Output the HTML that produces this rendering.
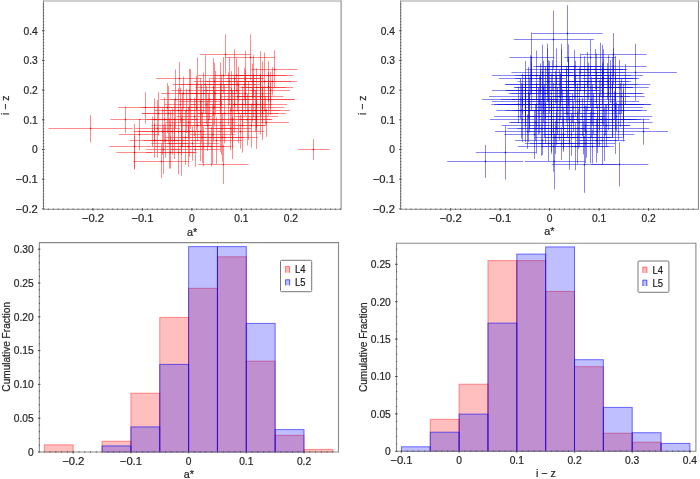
<!DOCTYPE html><html><head><meta charset="utf-8"><style>html,body{margin:0;padding:0;background:#fff;width:700px;height:479px;overflow:hidden;position:relative}svg text{font-family:"Liberation Sans", sans-serif;stroke:#262626;stroke-width:0.22px}</style></head><body><svg width="700" height="479" viewBox="0 0 700 479" style="position:absolute;left:0;top:0;will-change:transform" font-family='"Liberation Sans", sans-serif'>
<rect width="700" height="479" fill="#fff"/>
<clipPath id="clipA"><rect x="43.45" y="1.0" width="297.65000000000003" height="208.3"/></clipPath>
<g clip-path="url(#clipA)"><path d="M48.6 128.5H132.6M90.5 115.1V142.3M110.4 119.5H141.2M125.5 106.5V133.1M118.1 107.5H173.3M145.5 92.2V123.6M119.0 134.5H159.0M139.5 119.0V150.2M109.3 146.5H160.3M134.5 124.0V169.0M156.2 78.5H202.2M179.5 62.0V94.4M199.9 54.5H250.9M225.5 34.3V74.7M225.2 57.5H275.2M250.5 34.4V80.4M251.4 69.5H297.4M274.5 50.3V88.3M235.9 75.5H285.9M260.5 51.2V99.2M231.9 75.5H275.9M253.5 55.2V95.2M209.6 78.5H259.6M234.5 49.2V107.2M298.2 149.5H329.6M313.5 139.0V160.0M242.5 75.5H293.5M268.5 61.2V89.2M247.0 81.5H297.0M272.5 67.2V95.2M243.0 87.5H293.0M268.5 72.1V102.1M245.0 99.5H295.0M270.5 83.0V115.0M240.0 107.5H284.0M262.5 92.9V122.9M240.0 110.5H290.0M265.5 96.9V124.9M234.0 113.5H278.0M256.5 99.9V127.9M234.0 116.5H278.0M256.5 102.8V130.8M243.0 122.5H289.0M266.5 108.8V136.8M198.4 164.5H248.4M223.5 144.8V183.9M116.3 152.5H152.3M134.5 135.5V169.5M133.0 161.5H189.0M161.5 144.4V178.4M207.7 119.5H256.7M232.5 90.7V148.9M235.7 125.5H266.4M251.5 103.8V147.7M242.3 99.5H294.0M268.5 82.3V115.7M179.0 101.5H222.0M200.5 78.4V125.6M171.5 149.5H219.9M195.5 132.1V166.9M214.6 75.5H259.4M236.5 58.3V92.2M141.8 113.5H195.3M168.5 85.8V141.9M203.0 122.5H237.9M220.5 93.7V151.9M233.5 81.5H272.2M252.5 63.7V98.7M174.9 131.5H205.0M189.5 106.5V156.8M161.7 110.5H211.3M186.5 88.7V133.1M165.0 122.5H211.9M188.5 106.9V138.6M181.9 125.5H212.2M197.5 110.0V141.4M155.3 146.5H207.6M181.5 117.4V175.7M205.0 128.5H237.6M221.5 102.5V154.9M240.8 119.5H271.7M256.5 90.6V149.0M135.4 128.5H180.0M157.5 99.9V157.5M181.6 146.5H224.7M203.5 126.8V166.2M164.5 104.5H196.3M180.5 87.7V122.2M250.4 90.5H290.1M270.5 71.5V108.7M210.5 128.5H251.5M230.5 107.4V150.0M129.7 140.5H179.9M154.5 123.6V157.5M159.6 152.5H196.7M178.5 130.7V174.3M170.5 99.5H209.5M190.5 69.2V128.8M190.5 104.5H222.7M206.5 85.9V124.0M177.7 137.5H226.3M202.5 112.2V163.0M229.9 110.5H267.0M248.5 81.7V140.1M216.0 110.5H246.2M231.5 87.7V134.1M165.1 137.5H206.2M185.5 110.4V164.9M233.7 104.5H287.1M260.5 75.6V134.3M197.0 113.5H231.0M213.5 86.3V141.4M239.5 87.5H286.1M262.5 61.3V112.9M205.5 81.5H254.2M229.5 57.5V104.9M206.3 99.5H251.2M228.5 72.4V125.6M190.3 125.5H225.6M207.5 100.5V151.0M193.8 81.5H235.1M214.5 62.8V99.6M165.7 119.5H198.4M182.5 92.3V147.3M161.1 93.5H205.8M183.5 76.6V109.5M208.1 137.5H257.8M232.5 116.3V158.9M232.9 104.5H271.8M252.5 87.8V122.1M197.7 113.5H250.7M224.5 84.3V143.4M194.3 99.5H245.8M220.5 84.0V114.0M143.4 140.5H188.1M165.5 123.5V157.7M176.6 116.5H212.0M194.5 97.5V136.2M237.9 81.5H291.0M264.5 52.5V109.9M169.2 107.5H222.8M196.5 85.5V130.3M219.8 84.5H256.2M238.5 66.8V101.5M227.4 104.5H258.2M242.5 86.2V123.7M191.2 140.5H242.5M216.5 117.4V163.8M226.5 78.5H263.6M245.5 50.8V105.7M167.0 143.5H218.8M192.5 126.4V160.7M198.0 75.5H248.2M223.5 57.0V93.5M217.0 131.5H264.1M240.5 114.7V148.7M146.2 149.5H179.8M163.5 125.0V174.0M201.0 137.5H244.3M222.5 113.3V161.9M185.4 93.5H221.1M203.5 72.5V113.6M189.8 93.5H240.8M215.5 70.9V115.3M140.9 107.5H194.2M167.5 82.9V132.9M152.4 119.5H197.1M174.5 99.6V140.0M220.5 93.5H271.0M245.5 70.3V115.8M220.8 96.5H253.2M237.5 80.5V111.5M179.3 93.5H213.0M196.5 75.7V110.5M146.9 119.5H182.5M164.5 97.6V142.0M217.5 113.5H258.8M238.5 84.7V143.0M151.2 143.5H188.2M169.5 118.4V168.7M192.4 146.5H231.2M211.5 126.9V166.2M160.3 99.5H191.2M175.5 69.4V128.6M153.0 131.5H192.6M172.5 108.7V154.6M227.7 84.5H260.9M244.5 67.9V100.4M189.7 134.5H235.4M212.5 105.3V164.0M177.3 113.5H225.7M201.5 84.8V142.9M220.2 125.5H265.1M242.5 98.7V152.7M151.4 125.5H189.0M170.5 110.3V141.1M205.4 90.5H257.7M231.5 71.0V109.2M150.5 140.5H198.9M174.5 122.2V159.0M223.1 119.5H272.4M247.5 94.1V145.5M179.9 131.5H221.8M200.5 102.2V161.1M237.6 96.5H268.9M253.5 74.7V117.4M203.9 84.5H237.9M220.5 62.3V106.0M195.3 87.5H231.0M213.5 58.3V115.9M163.6 131.5H199.9M181.5 108.5V154.9M133.4 131.5H171.7M152.5 116.4V147.0M237.5 96.5H283.4M260.5 74.7V117.3M142.1 113.5H174.2M158.5 92.2V135.6M172.5 84.5H221.5M197.5 57.6V110.7M165.6 146.5H211.2M188.5 125.8V167.3M202.8 90.5H239.4M221.5 74.9V105.3M139.2 119.5H169.3M154.5 98.4V141.2M154.1 110.5H203.9M178.5 88.4V133.4M209.2 104.5H259.7M234.5 77.3V132.6M238.6 113.5H286.1M262.5 87.9V139.8M192.0 119.5H224.2M208.5 93.7V145.9M137.8 131.5H186.2M162.5 108.5V154.8M241.3 87.5H271.4M256.5 68.2V106.0M231.3 110.5H279.6M255.5 90.1V131.7M188.8 107.5H240.3M214.5 90.8V125.1M185.4 99.5H233.6M209.5 78.5V119.5M171.7 90.5H208.2M189.5 68.8V111.4M179.8 84.5H231.9M205.5 55.2V113.1M146.1 152.5H195.2M170.5 136.4V168.5" stroke="rgba(255,0,0,0.45)" stroke-width="1" fill="none"/>
<path d="M89.80 128.5h1.4M124.80 119.5h1.4M144.80 107.5h1.4M138.80 134.5h1.4M133.80 146.5h1.4M178.80 78.5h1.4M224.80 54.5h1.4M249.80 57.5h1.4M273.80 69.5h1.4M259.80 75.5h1.4M252.80 75.5h1.4M233.80 78.5h1.4M312.80 149.5h1.4M267.80 75.5h1.4M271.80 81.5h1.4M267.80 87.5h1.4M269.80 99.5h1.4M261.80 107.5h1.4M264.80 110.5h1.4M255.80 113.5h1.4M255.80 116.5h1.4M265.80 122.5h1.4M222.80 164.5h1.4M133.80 152.5h1.4M160.80 161.5h1.4M231.80 119.5h1.4M250.80 125.5h1.4M267.80 99.5h1.4M199.80 101.5h1.4M194.80 149.5h1.4M235.80 75.5h1.4M167.80 113.5h1.4M219.80 122.5h1.4M251.80 81.5h1.4M188.80 131.5h1.4M185.80 110.5h1.4M187.80 122.5h1.4M196.80 125.5h1.4M180.80 146.5h1.4M220.80 128.5h1.4M255.80 119.5h1.4M156.80 128.5h1.4M202.80 146.5h1.4M179.80 104.5h1.4M269.80 90.5h1.4M229.80 128.5h1.4M153.80 140.5h1.4M177.80 152.5h1.4M189.80 99.5h1.4M205.80 104.5h1.4M201.80 137.5h1.4M247.80 110.5h1.4M230.80 110.5h1.4M184.80 137.5h1.4M259.80 104.5h1.4M212.80 113.5h1.4M261.80 87.5h1.4M228.80 81.5h1.4M227.80 99.5h1.4M206.80 125.5h1.4M213.80 81.5h1.4M181.80 119.5h1.4M182.80 93.5h1.4M231.80 137.5h1.4M251.80 104.5h1.4M223.80 113.5h1.4M219.80 99.5h1.4M164.80 140.5h1.4M193.80 116.5h1.4M263.80 81.5h1.4M195.80 107.5h1.4M237.80 84.5h1.4M241.80 104.5h1.4M215.80 140.5h1.4M244.80 78.5h1.4M191.80 143.5h1.4M222.80 75.5h1.4M239.80 131.5h1.4M162.80 149.5h1.4M221.80 137.5h1.4M202.80 93.5h1.4M214.80 93.5h1.4M166.80 107.5h1.4M173.80 119.5h1.4M244.80 93.5h1.4M236.80 96.5h1.4M195.80 93.5h1.4M163.80 119.5h1.4M237.80 113.5h1.4M168.80 143.5h1.4M210.80 146.5h1.4M174.80 99.5h1.4M171.80 131.5h1.4M243.80 84.5h1.4M211.80 134.5h1.4M200.80 113.5h1.4M241.80 125.5h1.4M169.80 125.5h1.4M230.80 90.5h1.4M173.80 140.5h1.4M246.80 119.5h1.4M199.80 131.5h1.4M252.80 96.5h1.4M219.80 84.5h1.4M212.80 87.5h1.4M180.80 131.5h1.4M151.80 131.5h1.4M259.80 96.5h1.4M157.80 113.5h1.4M196.80 84.5h1.4M187.80 146.5h1.4M220.80 90.5h1.4M153.80 119.5h1.4M177.80 110.5h1.4M233.80 104.5h1.4M261.80 113.5h1.4M207.80 119.5h1.4M161.80 131.5h1.4M255.80 87.5h1.4M254.80 110.5h1.4M213.80 107.5h1.4M208.80 99.5h1.4M188.80 90.5h1.4M204.80 84.5h1.4M169.80 152.5h1.4" stroke="rgba(220,0,0,0.75)" stroke-width="1.4" fill="none"/></g>
<clipPath id="clipB"><rect x="400.6" y="1.0" width="297.9" height="208.3"/></clipPath>
<g clip-path="url(#clipB)"><path d="M447.2 161.5H523.2M485.5 144.9V177.9M475.8 152.5H535.8M505.5 125.5V179.5M531.9 33.5H602.5M567.5 5.2V62.2M513.9 39.5H593.9M553.5 10.6V68.6M593.6 72.5H676.8M635.5 43.8V100.8M509.4 57.5H554.4M531.5 32.4V82.4M491.6 75.5H568.4M530.5 55.2V95.2M581.0 54.5H646.6M613.5 33.0V76.0M581.0 66.5H646.6M613.5 48.3V84.3M599.6 84.5H650.4M625.5 63.9V104.5M581.0 75.5H643.0M612.5 57.2V93.2M583.0 78.5H637.0M610.5 60.2V96.2M564.4 57.5H615.6M590.5 39.4V75.4M578.6 69.5H622.6M600.5 42.8V95.8M581.1 72.5H625.1M603.5 49.3V95.3M586.2 93.5H643.8M615.5 73.1V113.1M585.0 101.5H639.0M612.5 82.0V122.0M588.7 104.5H651.3M620.5 83.0V127.0M587.0 107.5H643.0M615.5 87.9V127.9M505.3 90.5H574.7M540.5 70.1V110.1M489.0 96.5H561.0M525.5 76.0V116.0M482.0 99.5H558.0M520.5 79.0V119.0M492.0 101.5H558.0M525.5 82.0V122.0M494.0 104.5H556.0M525.5 85.0V125.0M551.7 164.5H617.7M584.5 135.8V192.8M524.9 161.5H584.9M554.5 133.4V189.4M591.3 164.5H648.3M619.5 142.3V186.3M618.0 131.5H668.0M643.5 118.7V144.7M522.6 75.5H583.4M552.5 60.2V90.3M554.9 96.5H596.8M575.5 74.9V117.1M500.9 99.5H543.2M522.5 83.7V114.3M541.9 134.5H585.8M563.5 117.5V151.8M556.5 143.5H615.0M585.5 124.0V163.1M588.4 87.5H633.0M610.5 71.5V102.8M528.4 131.5H574.2M551.5 109.5V153.8M558.2 96.5H615.8M587.5 81.2V110.9M566.5 99.5H616.5M591.5 76.8V121.2M534.2 90.5H599.7M566.5 66.3V113.9M516.0 110.5H572.8M544.5 84.6V137.1M561.1 87.5H632.5M596.5 71.5V102.8M540.7 128.5H585.6M563.5 107.9V149.6M490.0 119.5H554.5M522.5 97.8V141.8M563.8 113.5H622.4M593.5 93.5V134.2M548.2 119.5H590.2M569.5 96.0V143.6M539.3 119.5H580.0M559.5 99.3V140.3M515.2 75.5H557.1M536.5 50.5V100.0M505.7 84.5H558.2M531.5 58.0V110.4M544.2 137.5H610.4M577.5 111.5V163.7M522.3 99.5H573.8M548.5 72.6V125.4M513.8 104.5H572.6M543.5 87.3V122.6M522.6 110.5H593.1M557.5 87.2V134.6M542.9 116.5H604.5M573.5 102.1V131.6M581.2 128.5H649.1M615.5 103.5V153.9M538.7 96.5H582.0M560.5 73.2V118.9M515.1 78.5H566.0M540.5 63.5V93.0M508.6 93.5H549.4M528.5 66.8V119.3M560.3 75.5H608.4M584.5 56.4V94.1M547.0 104.5H589.7M568.5 89.5V120.4M521.7 87.5H588.3M555.5 70.9V103.4M546.4 75.5H603.7M575.5 60.9V89.6M541.2 146.5H608.8M575.5 122.8V170.3M507.5 128.5H564.6M536.5 103.8V153.6M582.8 125.5H630.0M606.5 104.5V147.0M536.0 66.5H576.8M556.5 48.4V84.3M510.7 122.5H581.3M545.5 102.5V143.0M597.6 96.5H644.7M621.5 78.9V113.2M578.3 104.5H639.2M608.5 79.8V130.1M576.2 104.5H621.9M599.5 79.9V130.0M529.8 143.5H592.9M561.5 127.2V159.9M598.3 119.5H649.5M623.5 98.1V141.5M583.2 81.5H631.3M607.5 63.1V99.3M526.9 101.5H585.5M556.5 75.3V128.6M547.5 66.5H601.6M574.5 49.8V82.9M505.0 104.5H568.2M536.5 83.2V126.7M524.3 107.5H582.1M553.5 82.9V132.9M505.5 110.5H553.4M529.5 93.0V128.8M544.1 128.5H613.3M578.5 108.5V148.9M556.0 107.5H612.3M584.5 84.2V131.6M538.4 143.5H600.8M569.5 117.3V169.8M590.8 87.5H648.7M619.5 59.9V114.3M586.8 75.5H630.7M608.5 55.1V95.4M504.7 84.5H547.0M525.5 60.8V107.5M580.2 140.5H625.1M602.5 116.6V164.6M507.6 90.5H570.7M539.5 75.8V104.4M557.5 101.5H598.1M577.5 83.3V120.6M520.5 75.5H574.0M547.5 48.5V102.0M565.2 131.5H607.9M586.5 105.7V157.7M553.2 84.5H596.7M574.5 67.9V100.4M545.2 134.5H597.7M571.5 113.6V155.7M501.5 125.5H549.7M525.5 109.5V142.0M587.5 119.5H636.5M612.5 102.4V137.2M599.1 110.5H647.0M623.5 83.4V138.4M531.4 93.5H571.4M551.5 73.7V112.4M567.6 119.5H630.5M599.5 93.5V146.1M524.3 90.5H595.8M560.5 74.0V106.2M575.0 131.5H619.5M597.5 110.3V153.0M575.6 134.5H634.3M604.5 108.2V161.1M568.1 122.5H615.4M591.5 108.3V137.2M557.8 119.5H613.5M585.5 105.8V133.8M541.8 107.5H602.9M572.5 93.0V122.8M564.9 81.5H628.6M596.5 53.5V108.9M565.1 69.5H609.8M587.5 51.8V86.9M562.7 87.5H619.2M590.5 66.6V107.6M534.1 75.5H602.7M568.5 58.5V92.0M515.2 140.5H570.8M542.5 126.2V154.9M491.2 104.5H545.6M518.5 86.7V123.2M583.6 122.5H652.5M618.5 104.7V140.8M526.1 69.5H569.3M547.5 43.6V95.0M524.9 143.5H572.8M548.5 125.8V161.3M564.0 69.5H627.4M595.5 49.0V89.6M514.7 87.5H572.9M543.5 60.7V113.6M536.7 107.5H588.7M562.5 89.2V126.7M585.3 104.5H644.1M614.5 90.9V119.0M530.3 84.5H589.5M559.5 70.0V98.3M517.2 128.5H566.6M541.5 101.4V156.0M511.5 99.5H572.8M542.5 71.7V126.3M581.9 116.5H652.1M616.5 102.5V131.2M579.3 69.5H625.6M602.5 44.8V93.9M496.4 110.5H546.9M521.5 83.2V138.6M569.5 119.5H641.2M605.5 104.4V135.2M558.9 116.5H605.9M582.5 97.7V136.0M568.2 81.5H608.6M588.5 62.6V99.8M582.9 110.5H624.9M603.5 95.5V126.3M509.1 122.5H562.2M535.5 104.8V140.7M496.9 104.5H562.6M529.5 77.4V132.5M575.6 140.5H616.9M596.5 118.7V162.5M583.0 110.5H641.6M612.5 84.5V137.2M529.8 128.5H584.0M556.5 112.2V145.2M494.4 116.5H562.3M528.5 91.9V141.8M556.2 90.5H603.0M579.5 67.4V112.8M517.5 81.5H579.8M548.5 60.2V102.2M504.2 134.5H565.4M534.5 110.3V159.0M517.5 116.5H560.9M539.5 99.9V133.7M562.8 104.5H623.0M592.5 84.5V125.4M530.2 116.5H573.4M551.5 97.0V136.7M574.2 96.5H629.9M602.5 68.4V123.7M574.4 93.5H641.7M608.5 75.3V110.8M557.6 137.5H622.8M590.5 111.9V163.4M597.3 104.5H650.5M623.5 89.5V120.4M528.9 125.5H574.3M551.5 99.7V151.8M544.2 81.5H592.3M568.5 56.7V105.7M495.1 131.5H559.8M527.5 114.4V148.9M573.5 78.5H632.6M603.5 59.4V97.0M511.2 93.5H580.1M545.5 66.4V119.7M532.3 75.5H591.3M561.5 49.2V101.3M565.6 125.5H629.9M597.5 105.1V146.4M546.1 72.5H615.5M580.5 53.7V90.8M499.0 78.5H563.3M531.5 62.7V93.7M545.7 96.5H587.5M566.5 69.6V122.5M539.6 69.5H583.5M561.5 43.7V94.9M492.0 90.5H552.5M522.5 73.6V106.6M534.6 137.5H575.5M555.5 121.0V154.3M513.4 110.5H562.6M538.5 87.3V134.5M552.7 137.5H613.5M583.5 120.9V154.4M533.2 66.5H602.8M568.5 44.4V88.2M566.3 84.5H637.8M602.5 63.2V105.1M555.9 122.5H603.3M579.5 98.3V147.3M517.8 146.5H589.7M553.5 121.4V171.6M511.4 72.5H573.0M542.5 44.6V99.9M537.1 113.5H597.5M567.5 90.0V137.8M571.1 146.5H613.9M592.5 129.6V163.5M591.9 78.5H639.1M615.5 55.8V100.6M513.8 87.5H584.8M549.5 60.9V113.3" stroke="rgba(0,0,220,0.47)" stroke-width="1" fill="none"/>
<path d="M484.80 161.5h1.4M504.80 152.5h1.4M566.80 33.5h1.4M552.80 39.5h1.4M634.80 72.5h1.4M530.80 57.5h1.4M529.80 75.5h1.4M612.80 54.5h1.4M612.80 66.5h1.4M624.80 84.5h1.4M611.80 75.5h1.4M609.80 78.5h1.4M589.80 57.5h1.4M599.80 69.5h1.4M602.80 72.5h1.4M614.80 93.5h1.4M611.80 101.5h1.4M619.80 104.5h1.4M614.80 107.5h1.4M539.80 90.5h1.4M524.80 96.5h1.4M519.80 99.5h1.4M524.80 101.5h1.4M524.80 104.5h1.4M583.80 164.5h1.4M553.80 161.5h1.4M618.80 164.5h1.4M642.80 131.5h1.4M551.80 75.5h1.4M574.80 96.5h1.4M521.80 99.5h1.4M562.80 134.5h1.4M584.80 143.5h1.4M609.80 87.5h1.4M550.80 131.5h1.4M586.80 96.5h1.4M590.80 99.5h1.4M565.80 90.5h1.4M543.80 110.5h1.4M595.80 87.5h1.4M562.80 128.5h1.4M521.80 119.5h1.4M592.80 113.5h1.4M568.80 119.5h1.4M558.80 119.5h1.4M535.80 75.5h1.4M530.80 84.5h1.4M576.80 137.5h1.4M547.80 99.5h1.4M542.80 104.5h1.4M556.80 110.5h1.4M572.80 116.5h1.4M614.80 128.5h1.4M559.80 96.5h1.4M539.80 78.5h1.4M527.80 93.5h1.4M583.80 75.5h1.4M567.80 104.5h1.4M554.80 87.5h1.4M574.80 75.5h1.4M574.80 146.5h1.4M535.80 128.5h1.4M605.80 125.5h1.4M555.80 66.5h1.4M544.80 122.5h1.4M620.80 96.5h1.4M607.80 104.5h1.4M598.80 104.5h1.4M560.80 143.5h1.4M622.80 119.5h1.4M606.80 81.5h1.4M555.80 101.5h1.4M573.80 66.5h1.4M535.80 104.5h1.4M552.80 107.5h1.4M528.80 110.5h1.4M577.80 128.5h1.4M583.80 107.5h1.4M568.80 143.5h1.4M618.80 87.5h1.4M607.80 75.5h1.4M524.80 84.5h1.4M601.80 140.5h1.4M538.80 90.5h1.4M576.80 101.5h1.4M546.80 75.5h1.4M585.80 131.5h1.4M573.80 84.5h1.4M570.80 134.5h1.4M524.80 125.5h1.4M611.80 119.5h1.4M622.80 110.5h1.4M550.80 93.5h1.4M598.80 119.5h1.4M559.80 90.5h1.4M596.80 131.5h1.4M603.80 134.5h1.4M590.80 122.5h1.4M584.80 119.5h1.4M571.80 107.5h1.4M595.80 81.5h1.4M586.80 69.5h1.4M589.80 87.5h1.4M567.80 75.5h1.4M541.80 140.5h1.4M517.80 104.5h1.4M617.80 122.5h1.4M546.80 69.5h1.4M547.80 143.5h1.4M594.80 69.5h1.4M542.80 87.5h1.4M561.80 107.5h1.4M613.80 104.5h1.4M558.80 84.5h1.4M540.80 128.5h1.4M541.80 99.5h1.4M615.80 116.5h1.4M601.80 69.5h1.4M520.80 110.5h1.4M604.80 119.5h1.4M581.80 116.5h1.4M587.80 81.5h1.4M602.80 110.5h1.4M534.80 122.5h1.4M528.80 104.5h1.4M595.80 140.5h1.4M611.80 110.5h1.4M555.80 128.5h1.4M527.80 116.5h1.4M578.80 90.5h1.4M547.80 81.5h1.4M533.80 134.5h1.4M538.80 116.5h1.4M591.80 104.5h1.4M550.80 116.5h1.4M601.80 96.5h1.4M607.80 93.5h1.4M589.80 137.5h1.4M622.80 104.5h1.4M550.80 125.5h1.4M567.80 81.5h1.4M526.80 131.5h1.4M602.80 78.5h1.4M544.80 93.5h1.4M560.80 75.5h1.4M596.80 125.5h1.4M579.80 72.5h1.4M530.80 78.5h1.4M565.80 96.5h1.4M560.80 69.5h1.4M521.80 90.5h1.4M554.80 137.5h1.4M537.80 110.5h1.4M582.80 137.5h1.4M567.80 66.5h1.4M601.80 84.5h1.4M578.80 122.5h1.4M552.80 146.5h1.4M541.80 72.5h1.4M566.80 113.5h1.4M591.80 146.5h1.4M614.80 78.5h1.4M548.80 87.5h1.4" stroke="rgba(0,0,190,0.75)" stroke-width="1.4" fill="none"/></g>
<rect x="44.35" y="444.80" width="28.85" height="7.20" fill="rgba(255,0,0,0.25)" stroke="rgba(255,0,0,0.4)" stroke-width="1"/>
<rect x="102.05" y="441.20" width="28.85" height="10.80" fill="rgba(255,0,0,0.25)" stroke="rgba(255,0,0,0.4)" stroke-width="1"/>
<rect x="130.90" y="393.20" width="28.85" height="58.80" fill="rgba(255,0,0,0.25)" stroke="rgba(255,0,0,0.4)" stroke-width="1"/>
<rect x="159.75" y="317.40" width="28.85" height="134.60" fill="rgba(255,0,0,0.25)" stroke="rgba(255,0,0,0.4)" stroke-width="1"/>
<rect x="188.60" y="288.30" width="28.85" height="163.70" fill="rgba(255,0,0,0.25)" stroke="rgba(255,0,0,0.4)" stroke-width="1"/>
<rect x="217.45" y="256.80" width="28.85" height="195.20" fill="rgba(255,0,0,0.25)" stroke="rgba(255,0,0,0.4)" stroke-width="1"/>
<rect x="246.30" y="361.10" width="28.85" height="90.90" fill="rgba(255,0,0,0.25)" stroke="rgba(255,0,0,0.4)" stroke-width="1"/>
<rect x="275.15" y="435.30" width="28.85" height="16.70" fill="rgba(255,0,0,0.25)" stroke="rgba(255,0,0,0.4)" stroke-width="1"/>
<rect x="304.00" y="449.40" width="28.85" height="2.60" fill="rgba(255,0,0,0.25)" stroke="rgba(255,0,0,0.4)" stroke-width="1"/>
<rect x="102.05" y="445.90" width="28.85" height="6.10" fill="rgba(0,0,255,0.25)" stroke="rgba(0,0,255,0.55)" stroke-width="1"/>
<rect x="130.90" y="426.90" width="28.85" height="25.10" fill="rgba(0,0,255,0.25)" stroke="rgba(0,0,255,0.55)" stroke-width="1"/>
<rect x="159.75" y="364.40" width="28.85" height="87.60" fill="rgba(0,0,255,0.25)" stroke="rgba(0,0,255,0.55)" stroke-width="1"/>
<rect x="188.60" y="246.60" width="28.85" height="205.40" fill="rgba(0,0,255,0.25)" stroke="rgba(0,0,255,0.55)" stroke-width="1"/>
<rect x="217.45" y="246.60" width="28.85" height="205.40" fill="rgba(0,0,255,0.25)" stroke="rgba(0,0,255,0.55)" stroke-width="1"/>
<rect x="246.30" y="323.40" width="28.85" height="128.60" fill="rgba(0,0,255,0.25)" stroke="rgba(0,0,255,0.55)" stroke-width="1"/>
<rect x="275.15" y="429.60" width="28.85" height="22.40" fill="rgba(0,0,255,0.25)" stroke="rgba(0,0,255,0.55)" stroke-width="1"/>
<rect x="430.25" y="419.30" width="28.85" height="32.00" fill="rgba(255,0,0,0.25)" stroke="rgba(255,0,0,0.4)" stroke-width="1"/>
<rect x="459.10" y="384.20" width="28.85" height="67.10" fill="rgba(255,0,0,0.25)" stroke="rgba(255,0,0,0.4)" stroke-width="1"/>
<rect x="487.95" y="260.60" width="28.85" height="190.70" fill="rgba(255,0,0,0.25)" stroke="rgba(255,0,0,0.4)" stroke-width="1"/>
<rect x="516.80" y="260.60" width="28.85" height="190.70" fill="rgba(255,0,0,0.25)" stroke="rgba(255,0,0,0.4)" stroke-width="1"/>
<rect x="545.65" y="291.40" width="28.85" height="159.90" fill="rgba(255,0,0,0.25)" stroke="rgba(255,0,0,0.4)" stroke-width="1"/>
<rect x="574.50" y="366.70" width="28.85" height="84.60" fill="rgba(255,0,0,0.25)" stroke="rgba(255,0,0,0.4)" stroke-width="1"/>
<rect x="603.35" y="433.20" width="28.85" height="18.10" fill="rgba(255,0,0,0.25)" stroke="rgba(255,0,0,0.4)" stroke-width="1"/>
<rect x="632.20" y="442.20" width="28.85" height="9.10" fill="rgba(255,0,0,0.25)" stroke="rgba(255,0,0,0.4)" stroke-width="1"/>
<rect x="401.40" y="446.80" width="28.85" height="4.50" fill="rgba(0,0,255,0.25)" stroke="rgba(0,0,255,0.55)" stroke-width="1"/>
<rect x="430.25" y="432.20" width="28.85" height="19.10" fill="rgba(0,0,255,0.25)" stroke="rgba(0,0,255,0.55)" stroke-width="1"/>
<rect x="459.10" y="414.10" width="28.85" height="37.20" fill="rgba(0,0,255,0.25)" stroke="rgba(0,0,255,0.55)" stroke-width="1"/>
<rect x="487.95" y="323.10" width="28.85" height="128.20" fill="rgba(0,0,255,0.25)" stroke="rgba(0,0,255,0.55)" stroke-width="1"/>
<rect x="516.80" y="254.10" width="28.85" height="197.20" fill="rgba(0,0,255,0.25)" stroke="rgba(0,0,255,0.55)" stroke-width="1"/>
<rect x="545.65" y="246.90" width="28.85" height="204.40" fill="rgba(0,0,255,0.25)" stroke="rgba(0,0,255,0.55)" stroke-width="1"/>
<rect x="574.50" y="359.70" width="28.85" height="91.60" fill="rgba(0,0,255,0.25)" stroke="rgba(0,0,255,0.55)" stroke-width="1"/>
<rect x="603.35" y="407.40" width="28.85" height="43.90" fill="rgba(0,0,255,0.25)" stroke="rgba(0,0,255,0.55)" stroke-width="1"/>
<rect x="632.20" y="432.70" width="28.85" height="18.60" fill="rgba(0,0,255,0.25)" stroke="rgba(0,0,255,0.55)" stroke-width="1"/>
<rect x="661.05" y="443.40" width="28.85" height="7.90" fill="rgba(0,0,255,0.25)" stroke="rgba(0,0,255,0.55)" stroke-width="1"/>
<path d="M43.45 1.00H341.10" stroke="#a0a0a0" stroke-width="1.1" fill="none"/>
<path d="M43.45 0.50V209.80M341.10 0.50V209.80M42.95 209.30H341.60" stroke="#8a8a8a" stroke-width="1.1" fill="none"/>
<path d="M400.60 1.00H698.50" stroke="#a0a0a0" stroke-width="1.1" fill="none"/>
<path d="M400.60 0.50V209.80M698.50 0.50V209.80M400.10 209.30H699.00" stroke="#8a8a8a" stroke-width="1.1" fill="none"/>
<path d="M39.35 242.60H338.50" stroke="#8a8a8a" stroke-width="1.1" fill="none"/>
<path d="M39.35 242.10V452.50M338.50 242.10V452.50M38.85 452.00H339.00" stroke="#8a8a8a" stroke-width="1.1" fill="none"/>
<path d="M396.50 243.20H695.90" stroke="#8a8a8a" stroke-width="1.1" fill="none"/>
<path d="M396.50 242.70V451.80M695.90 242.70V451.80M396.00 451.30H696.40" stroke="#8a8a8a" stroke-width="1.1" fill="none"/>
<path d="M48.35 209.80v-1.2 M53.30 209.80v-1.2 M58.25 209.80v-1.2 M63.20 209.80v-1.2 M68.15 209.80v-1.2 M73.10 209.80v-1.2 M78.05 209.80v-1.2 M83.00 209.80v-1.2 M87.95 209.80v-1.2 M92.90 209.80v-1.2 M97.85 209.80v-1.2 M102.80 209.80v-1.2 M107.75 209.80v-1.2 M112.70 209.80v-1.2 M117.65 209.80v-1.2 M122.60 209.80v-1.2 M127.55 209.80v-1.2 M132.50 209.80v-1.2 M137.45 209.80v-1.2 M142.40 209.80v-1.2 M147.35 209.80v-1.2 M152.30 209.80v-1.2 M157.25 209.80v-1.2 M162.20 209.80v-1.2 M167.15 209.80v-1.2 M172.10 209.80v-1.2 M177.05 209.80v-1.2 M182.00 209.80v-1.2 M186.95 209.80v-1.2 M191.90 209.80v-1.2 M196.85 209.80v-1.2 M201.80 209.80v-1.2 M206.75 209.80v-1.2 M211.70 209.80v-1.2 M216.65 209.80v-1.2 M221.60 209.80v-1.2 M226.55 209.80v-1.2 M231.50 209.80v-1.2 M236.45 209.80v-1.2 M241.40 209.80v-1.2 M246.35 209.80v-1.2 M251.30 209.80v-1.2 M256.25 209.80v-1.2 M261.20 209.80v-1.2 M266.15 209.80v-1.2 M271.10 209.80v-1.2 M276.05 209.80v-1.2 M281.00 209.80v-1.2 M285.95 209.80v-1.2 M290.90 209.80v-1.2 M295.85 209.80v-1.2 M300.80 209.80v-1.2 M305.75 209.80v-1.2 M310.70 209.80v-1.2 M315.65 209.80v-1.2 M320.60 209.80v-1.2 M325.55 209.80v-1.2 M330.50 209.80v-1.2 M335.45 209.80v-1.2 M340.40 209.80v-1.2 M42.95 205.93h1.2 M42.95 202.96h1.2 M42.95 199.99h1.2 M42.95 197.02h1.2 M42.95 194.05h1.2 M42.95 191.08h1.2 M42.95 188.11h1.2 M42.95 185.14h1.2 M42.95 182.17h1.2 M42.95 179.20h1.2 M42.95 176.23h1.2 M42.95 173.26h1.2 M42.95 170.29h1.2 M42.95 167.32h1.2 M42.95 164.35h1.2 M42.95 161.38h1.2 M42.95 158.41h1.2 M42.95 155.44h1.2 M42.95 152.47h1.2 M42.95 149.50h1.2 M42.95 146.53h1.2 M42.95 143.56h1.2 M42.95 140.59h1.2 M42.95 137.62h1.2 M42.95 134.65h1.2 M42.95 131.68h1.2 M42.95 128.71h1.2 M42.95 125.74h1.2 M42.95 122.77h1.2 M42.95 119.80h1.2 M42.95 116.83h1.2 M42.95 113.86h1.2 M42.95 110.89h1.2 M42.95 107.92h1.2 M42.95 104.95h1.2 M42.95 101.98h1.2 M42.95 99.01h1.2 M42.95 96.04h1.2 M42.95 93.07h1.2 M42.95 90.10h1.2 M42.95 87.13h1.2 M42.95 84.16h1.2 M42.95 81.19h1.2 M42.95 78.22h1.2 M42.95 75.25h1.2 M42.95 72.28h1.2 M42.95 69.31h1.2 M42.95 66.34h1.2 M42.95 63.37h1.2 M42.95 60.40h1.2 M42.95 57.43h1.2 M42.95 54.46h1.2 M42.95 51.49h1.2 M42.95 48.52h1.2 M42.95 45.55h1.2 M42.95 42.58h1.2 M42.95 39.61h1.2 M42.95 36.64h1.2 M42.95 33.67h1.2 M42.95 30.70h1.2 M42.95 27.73h1.2 M42.95 24.76h1.2 M42.95 21.79h1.2 M42.95 18.82h1.2 M42.95 15.85h1.2 M42.95 12.88h1.2 M42.95 9.91h1.2 M42.95 6.94h1.2 M42.95 3.97h1.2" stroke="#4a4a4a" stroke-width="0.9" fill="none"/>
<path d="M92.90 210.70v-2.4 M142.40 210.70v-2.4 M191.90 210.70v-2.4 M241.40 210.70v-2.4 M290.90 210.70v-2.4 M42.05 208.90h2.4 M42.05 179.20h2.4 M42.05 149.50h2.4 M42.05 119.80h2.4 M42.05 90.10h2.4 M42.05 60.40h2.4 M42.05 30.70h2.4" stroke="#4a4a4a" stroke-width="1" fill="none"/>
<path d="M406.05 209.80v-1.2 M411.00 209.80v-1.2 M415.95 209.80v-1.2 M420.90 209.80v-1.2 M425.85 209.80v-1.2 M430.80 209.80v-1.2 M435.75 209.80v-1.2 M440.70 209.80v-1.2 M445.65 209.80v-1.2 M450.60 209.80v-1.2 M455.55 209.80v-1.2 M460.50 209.80v-1.2 M465.45 209.80v-1.2 M470.40 209.80v-1.2 M475.35 209.80v-1.2 M480.30 209.80v-1.2 M485.25 209.80v-1.2 M490.20 209.80v-1.2 M495.15 209.80v-1.2 M500.10 209.80v-1.2 M505.05 209.80v-1.2 M510.00 209.80v-1.2 M514.95 209.80v-1.2 M519.90 209.80v-1.2 M524.85 209.80v-1.2 M529.80 209.80v-1.2 M534.75 209.80v-1.2 M539.70 209.80v-1.2 M544.65 209.80v-1.2 M549.60 209.80v-1.2 M554.55 209.80v-1.2 M559.50 209.80v-1.2 M564.45 209.80v-1.2 M569.40 209.80v-1.2 M574.35 209.80v-1.2 M579.30 209.80v-1.2 M584.25 209.80v-1.2 M589.20 209.80v-1.2 M594.15 209.80v-1.2 M599.10 209.80v-1.2 M604.05 209.80v-1.2 M609.00 209.80v-1.2 M613.95 209.80v-1.2 M618.90 209.80v-1.2 M623.85 209.80v-1.2 M628.80 209.80v-1.2 M633.75 209.80v-1.2 M638.70 209.80v-1.2 M643.65 209.80v-1.2 M648.60 209.80v-1.2 M653.55 209.80v-1.2 M658.50 209.80v-1.2 M663.45 209.80v-1.2 M668.40 209.80v-1.2 M673.35 209.80v-1.2 M678.30 209.80v-1.2 M683.25 209.80v-1.2 M688.20 209.80v-1.2 M693.15 209.80v-1.2 M400.10 205.93h1.2 M400.10 202.96h1.2 M400.10 199.99h1.2 M400.10 197.02h1.2 M400.10 194.05h1.2 M400.10 191.08h1.2 M400.10 188.11h1.2 M400.10 185.14h1.2 M400.10 182.17h1.2 M400.10 179.20h1.2 M400.10 176.23h1.2 M400.10 173.26h1.2 M400.10 170.29h1.2 M400.10 167.32h1.2 M400.10 164.35h1.2 M400.10 161.38h1.2 M400.10 158.41h1.2 M400.10 155.44h1.2 M400.10 152.47h1.2 M400.10 149.50h1.2 M400.10 146.53h1.2 M400.10 143.56h1.2 M400.10 140.59h1.2 M400.10 137.62h1.2 M400.10 134.65h1.2 M400.10 131.68h1.2 M400.10 128.71h1.2 M400.10 125.74h1.2 M400.10 122.77h1.2 M400.10 119.80h1.2 M400.10 116.83h1.2 M400.10 113.86h1.2 M400.10 110.89h1.2 M400.10 107.92h1.2 M400.10 104.95h1.2 M400.10 101.98h1.2 M400.10 99.01h1.2 M400.10 96.04h1.2 M400.10 93.07h1.2 M400.10 90.10h1.2 M400.10 87.13h1.2 M400.10 84.16h1.2 M400.10 81.19h1.2 M400.10 78.22h1.2 M400.10 75.25h1.2 M400.10 72.28h1.2 M400.10 69.31h1.2 M400.10 66.34h1.2 M400.10 63.37h1.2 M400.10 60.40h1.2 M400.10 57.43h1.2 M400.10 54.46h1.2 M400.10 51.49h1.2 M400.10 48.52h1.2 M400.10 45.55h1.2 M400.10 42.58h1.2 M400.10 39.61h1.2 M400.10 36.64h1.2 M400.10 33.67h1.2 M400.10 30.70h1.2 M400.10 27.73h1.2 M400.10 24.76h1.2 M400.10 21.79h1.2 M400.10 18.82h1.2 M400.10 15.85h1.2 M400.10 12.88h1.2 M400.10 9.91h1.2 M400.10 6.94h1.2 M400.10 3.97h1.2" stroke="#4a4a4a" stroke-width="0.9" fill="none"/>
<path d="M450.60 210.70v-2.4 M500.10 210.70v-2.4 M549.60 210.70v-2.4 M599.10 210.70v-2.4 M648.60 210.70v-2.4 M399.20 208.90h2.4 M399.20 179.20h2.4 M399.20 149.50h2.4 M399.20 119.80h2.4 M399.20 90.10h2.4 M399.20 60.40h2.4 M399.20 30.70h2.4" stroke="#4a4a4a" stroke-width="1" fill="none"/>
<path d="M44.35 452.50v-1.2 M50.12 452.50v-1.2 M55.89 452.50v-1.2 M61.66 452.50v-1.2 M67.43 452.50v-1.2 M73.20 452.50v-1.2 M78.97 452.50v-1.2 M84.74 452.50v-1.2 M90.51 452.50v-1.2 M96.28 452.50v-1.2 M102.05 452.50v-1.2 M107.82 452.50v-1.2 M113.59 452.50v-1.2 M119.36 452.50v-1.2 M125.13 452.50v-1.2 M130.90 452.50v-1.2 M136.67 452.50v-1.2 M142.44 452.50v-1.2 M148.21 452.50v-1.2 M153.98 452.50v-1.2 M159.75 452.50v-1.2 M165.52 452.50v-1.2 M171.29 452.50v-1.2 M177.06 452.50v-1.2 M182.83 452.50v-1.2 M188.60 452.50v-1.2 M194.37 452.50v-1.2 M200.14 452.50v-1.2 M205.91 452.50v-1.2 M211.68 452.50v-1.2 M217.45 452.50v-1.2 M223.22 452.50v-1.2 M228.99 452.50v-1.2 M234.76 452.50v-1.2 M240.53 452.50v-1.2 M246.30 452.50v-1.2 M252.07 452.50v-1.2 M257.84 452.50v-1.2 M263.61 452.50v-1.2 M269.38 452.50v-1.2 M275.15 452.50v-1.2 M280.92 452.50v-1.2 M286.69 452.50v-1.2 M292.46 452.50v-1.2 M298.23 452.50v-1.2 M304.00 452.50v-1.2 M309.77 452.50v-1.2 M315.54 452.50v-1.2 M321.31 452.50v-1.2 M327.08 452.50v-1.2 M332.85 452.50v-1.2 M38.85 445.24h1.2 M38.85 438.48h1.2 M38.85 431.72h1.2 M38.85 424.96h1.2 M38.85 418.20h1.2 M38.85 411.44h1.2 M38.85 404.68h1.2 M38.85 397.92h1.2 M38.85 391.16h1.2 M38.85 384.40h1.2 M38.85 377.64h1.2 M38.85 370.88h1.2 M38.85 364.12h1.2 M38.85 357.36h1.2 M38.85 350.60h1.2 M38.85 343.84h1.2 M38.85 337.08h1.2 M38.85 330.32h1.2 M38.85 323.56h1.2 M38.85 316.80h1.2 M38.85 310.04h1.2 M38.85 303.28h1.2 M38.85 296.52h1.2 M38.85 289.76h1.2 M38.85 283.00h1.2 M38.85 276.24h1.2 M38.85 269.48h1.2 M38.85 262.72h1.2 M38.85 255.96h1.2 M38.85 249.20h1.2" stroke="#4a4a4a" stroke-width="0.9" fill="none"/>
<path d="M73.20 453.40v-2.4 M130.90 453.40v-2.4 M188.60 453.40v-2.4 M246.30 453.40v-2.4 M304.00 453.40v-2.4 M37.95 452.00h2.4 M37.95 418.20h2.4 M37.95 384.40h2.4 M37.95 350.60h2.4 M37.95 316.80h2.4 M37.95 283.00h2.4 M37.95 249.20h2.4" stroke="#4a4a4a" stroke-width="1" fill="none"/>
<path d="M401.40 451.80v-1.2 M407.17 451.80v-1.2 M412.94 451.80v-1.2 M418.71 451.80v-1.2 M424.48 451.80v-1.2 M430.25 451.80v-1.2 M436.02 451.80v-1.2 M441.79 451.80v-1.2 M447.56 451.80v-1.2 M453.33 451.80v-1.2 M459.10 451.80v-1.2 M464.87 451.80v-1.2 M470.64 451.80v-1.2 M476.41 451.80v-1.2 M482.18 451.80v-1.2 M487.95 451.80v-1.2 M493.72 451.80v-1.2 M499.49 451.80v-1.2 M505.26 451.80v-1.2 M511.03 451.80v-1.2 M516.80 451.80v-1.2 M522.57 451.80v-1.2 M528.34 451.80v-1.2 M534.11 451.80v-1.2 M539.88 451.80v-1.2 M545.65 451.80v-1.2 M551.42 451.80v-1.2 M557.19 451.80v-1.2 M562.96 451.80v-1.2 M568.73 451.80v-1.2 M574.50 451.80v-1.2 M580.27 451.80v-1.2 M586.04 451.80v-1.2 M591.81 451.80v-1.2 M597.58 451.80v-1.2 M603.35 451.80v-1.2 M609.12 451.80v-1.2 M614.89 451.80v-1.2 M620.66 451.80v-1.2 M626.43 451.80v-1.2 M632.20 451.80v-1.2 M637.97 451.80v-1.2 M643.74 451.80v-1.2 M649.51 451.80v-1.2 M655.28 451.80v-1.2 M661.05 451.80v-1.2 M666.82 451.80v-1.2 M672.59 451.80v-1.2 M678.36 451.80v-1.2 M684.13 451.80v-1.2 M689.90 451.80v-1.2 M396.00 443.82h1.2 M396.00 436.34h1.2 M396.00 428.86h1.2 M396.00 421.38h1.2 M396.00 413.90h1.2 M396.00 406.42h1.2 M396.00 398.94h1.2 M396.00 391.46h1.2 M396.00 383.98h1.2 M396.00 376.50h1.2 M396.00 369.02h1.2 M396.00 361.54h1.2 M396.00 354.06h1.2 M396.00 346.58h1.2 M396.00 339.10h1.2 M396.00 331.62h1.2 M396.00 324.14h1.2 M396.00 316.66h1.2 M396.00 309.18h1.2 M396.00 301.70h1.2 M396.00 294.22h1.2 M396.00 286.74h1.2 M396.00 279.26h1.2 M396.00 271.78h1.2 M396.00 264.30h1.2 M396.00 256.82h1.2 M396.00 249.34h1.2" stroke="#4a4a4a" stroke-width="0.9" fill="none"/>
<path d="M401.40 452.70v-2.4 M459.10 452.70v-2.4 M516.80 452.70v-2.4 M574.50 452.70v-2.4 M632.20 452.70v-2.4 M689.90 452.70v-2.4 M395.10 451.30h2.4 M395.10 413.90h2.4 M395.10 376.50h2.4 M395.10 339.10h2.4 M395.10 301.70h2.4 M395.10 264.30h2.4" stroke="#4a4a4a" stroke-width="1" fill="none"/>
<text transform="translate(92.90 221.80) scale(1.04 1)" font-size="10.8" text-anchor="middle" fill="#262626">−0.2</text>
<text transform="translate(142.40 221.80) scale(1.04 1)" font-size="10.8" text-anchor="middle" fill="#262626">−0.1</text>
<text transform="translate(191.90 221.80) scale(0.95 1)" font-size="10.8" text-anchor="middle" fill="#262626">0</text>
<text transform="translate(241.40 221.80) scale(0.95 1)" font-size="10.8" text-anchor="middle" fill="#262626">0.1</text>
<text transform="translate(290.90 221.80) scale(0.95 1)" font-size="10.8" text-anchor="middle" fill="#262626">0.2</text>
<text transform="translate(37.75 212.70) scale(1.04 1)" font-size="10.8" text-anchor="end" fill="#262626">−0.2</text>
<text transform="translate(37.75 183.00) scale(1.04 1)" font-size="10.8" text-anchor="end" fill="#262626">−0.1</text>
<text transform="translate(37.75 153.30) scale(0.95 1)" font-size="10.8" text-anchor="end" fill="#262626">0</text>
<text transform="translate(37.75 123.60) scale(0.95 1)" font-size="10.8" text-anchor="end" fill="#262626">0.1</text>
<text transform="translate(37.75 93.90) scale(0.95 1)" font-size="10.8" text-anchor="end" fill="#262626">0.2</text>
<text transform="translate(37.75 64.20) scale(0.95 1)" font-size="10.8" text-anchor="end" fill="#262626">0.3</text>
<text transform="translate(37.75 34.50) scale(0.95 1)" font-size="10.8" text-anchor="end" fill="#262626">0.4</text>
<text transform="translate(450.60 221.80) scale(1.04 1)" font-size="10.8" text-anchor="middle" fill="#262626">−0.2</text>
<text transform="translate(500.10 221.80) scale(1.04 1)" font-size="10.8" text-anchor="middle" fill="#262626">−0.1</text>
<text transform="translate(549.60 221.80) scale(0.95 1)" font-size="10.8" text-anchor="middle" fill="#262626">0</text>
<text transform="translate(599.10 221.80) scale(0.95 1)" font-size="10.8" text-anchor="middle" fill="#262626">0.1</text>
<text transform="translate(648.60 221.80) scale(0.95 1)" font-size="10.8" text-anchor="middle" fill="#262626">0.2</text>
<text transform="translate(394.90 212.70) scale(1.04 1)" font-size="10.8" text-anchor="end" fill="#262626">−0.2</text>
<text transform="translate(394.90 183.00) scale(1.04 1)" font-size="10.8" text-anchor="end" fill="#262626">−0.1</text>
<text transform="translate(394.90 153.30) scale(0.95 1)" font-size="10.8" text-anchor="end" fill="#262626">0</text>
<text transform="translate(394.90 123.60) scale(0.95 1)" font-size="10.8" text-anchor="end" fill="#262626">0.1</text>
<text transform="translate(394.90 93.90) scale(0.95 1)" font-size="10.8" text-anchor="end" fill="#262626">0.2</text>
<text transform="translate(394.90 64.20) scale(0.95 1)" font-size="10.8" text-anchor="end" fill="#262626">0.3</text>
<text transform="translate(394.90 34.50) scale(0.95 1)" font-size="10.8" text-anchor="end" fill="#262626">0.4</text>
<text transform="translate(73.20 464.50) scale(1.04 1)" font-size="10.8" text-anchor="middle" fill="#262626">−0.2</text>
<text transform="translate(130.90 464.50) scale(1.04 1)" font-size="10.8" text-anchor="middle" fill="#262626">−0.1</text>
<text transform="translate(188.60 464.50) scale(0.95 1)" font-size="10.8" text-anchor="middle" fill="#262626">0</text>
<text transform="translate(246.30 464.50) scale(0.95 1)" font-size="10.8" text-anchor="middle" fill="#262626">0.1</text>
<text transform="translate(304.00 464.50) scale(0.95 1)" font-size="10.8" text-anchor="middle" fill="#262626">0.2</text>
<text transform="translate(33.65 455.80) scale(0.95 1)" font-size="10.8" text-anchor="end" fill="#262626">0</text>
<text transform="translate(33.65 422.00) scale(0.95 1)" font-size="10.8" text-anchor="end" fill="#262626">0.05</text>
<text transform="translate(33.65 388.20) scale(0.95 1)" font-size="10.8" text-anchor="end" fill="#262626">0.10</text>
<text transform="translate(33.65 354.40) scale(0.95 1)" font-size="10.8" text-anchor="end" fill="#262626">0.15</text>
<text transform="translate(33.65 320.60) scale(0.95 1)" font-size="10.8" text-anchor="end" fill="#262626">0.20</text>
<text transform="translate(33.65 286.80) scale(0.95 1)" font-size="10.8" text-anchor="end" fill="#262626">0.25</text>
<text transform="translate(33.65 253.00) scale(0.95 1)" font-size="10.8" text-anchor="end" fill="#262626">0.30</text>
<text transform="translate(401.40 463.80) scale(1.04 1)" font-size="10.8" text-anchor="middle" fill="#262626">−0.1</text>
<text transform="translate(459.10 463.80) scale(0.95 1)" font-size="10.8" text-anchor="middle" fill="#262626">0</text>
<text transform="translate(516.80 463.80) scale(0.95 1)" font-size="10.8" text-anchor="middle" fill="#262626">0.1</text>
<text transform="translate(574.50 463.80) scale(0.95 1)" font-size="10.8" text-anchor="middle" fill="#262626">0.2</text>
<text transform="translate(632.20 463.80) scale(0.95 1)" font-size="10.8" text-anchor="middle" fill="#262626">0.3</text>
<text transform="translate(689.90 463.80) scale(0.95 1)" font-size="10.8" text-anchor="middle" fill="#262626">0.4</text>
<text transform="translate(390.80 455.10) scale(0.95 1)" font-size="10.8" text-anchor="end" fill="#262626">0</text>
<text transform="translate(390.80 417.70) scale(0.95 1)" font-size="10.8" text-anchor="end" fill="#262626">0.05</text>
<text transform="translate(390.80 380.30) scale(0.95 1)" font-size="10.8" text-anchor="end" fill="#262626">0.10</text>
<text transform="translate(390.80 342.90) scale(0.95 1)" font-size="10.8" text-anchor="end" fill="#262626">0.15</text>
<text transform="translate(390.80 305.50) scale(0.95 1)" font-size="10.8" text-anchor="end" fill="#262626">0.20</text>
<text transform="translate(390.80 268.10) scale(0.95 1)" font-size="10.8" text-anchor="end" fill="#262626">0.25</text>
<text x="192.00" y="235.70" font-size="10.8" text-anchor="middle" fill="#262626">a*</text>
<text x="549.40" y="235.40" font-size="10.8" text-anchor="middle" fill="#262626">a*</text>
<text x="188.90" y="478.40" font-size="10.8" text-anchor="middle" fill="#262626">a*</text>
<text x="546.00" y="477.00" font-size="10.8" text-anchor="middle" fill="#262626" textLength="20.00" lengthAdjust="spacingAndGlyphs">i − z</text>
<text x="8.90" y="105.30" font-size="10.8" text-anchor="middle" fill="#262626" textLength="19.30" lengthAdjust="spacingAndGlyphs" transform="rotate(-90 8.90 105.30)">i − z</text>
<text x="366.10" y="105.30" font-size="10.8" text-anchor="middle" fill="#262626" textLength="19.30" lengthAdjust="spacingAndGlyphs" transform="rotate(-90 366.10 105.30)">i − z</text>
<text x="9.70" y="346.80" font-size="10.8" text-anchor="middle" fill="#262626" textLength="89.70" lengthAdjust="spacingAndGlyphs" transform="rotate(-90 9.70 346.80)">Cumulative Fraction</text>
<text x="367.10" y="347.20" font-size="10.8" text-anchor="middle" fill="#262626" textLength="89.70" lengthAdjust="spacingAndGlyphs" transform="rotate(-90 367.10 347.20)">Cumulative Fraction</text>
<rect x="280.5" y="260.3" width="31.20" height="31.40" rx="1" fill="#fff" stroke="#777" stroke-width="1"/>
<rect x="285.1" y="266.1" width="5.00" height="6.70" fill="rgba(255,0,0,0.25)"/>
<path d="M285.60 272.80V266.60H289.60V272.80" fill="none" stroke="rgba(255,0,0,0.4)" stroke-width="1"/>
<rect x="285.1" y="279.3" width="5.00" height="6.10" fill="rgba(0,0,255,0.25)"/>
<path d="M285.60 285.40V279.80H289.60V285.40" fill="none" stroke="rgba(0,0,255,0.55)" stroke-width="1"/>
<text x="295.10" y="273.40" font-size="10.8" text-anchor="start" fill="#111" textLength="10.50" lengthAdjust="spacingAndGlyphs">L4</text>
<text x="295.10" y="286.30" font-size="10.8" text-anchor="start" fill="#111" textLength="10.50" lengthAdjust="spacingAndGlyphs">L5</text>
<rect x="638.0" y="261.0" width="30.90" height="31.30" rx="1" fill="#fff" stroke="#777" stroke-width="1"/>
<rect x="642.4" y="266.7" width="4.90" height="6.30" fill="rgba(255,0,0,0.25)"/>
<path d="M642.90 273.00V267.20H646.80V273.00" fill="none" stroke="rgba(255,0,0,0.4)" stroke-width="1"/>
<rect x="642.4" y="279.7" width="4.90" height="6.30" fill="rgba(0,0,255,0.25)"/>
<path d="M642.90 286.00V280.20H646.80V286.00" fill="none" stroke="rgba(0,0,255,0.55)" stroke-width="1"/>
<text x="652.60" y="273.80" font-size="10.8" text-anchor="start" fill="#111" textLength="10.50" lengthAdjust="spacingAndGlyphs">L4</text>
<text x="652.60" y="287.00" font-size="10.8" text-anchor="start" fill="#111" textLength="10.50" lengthAdjust="spacingAndGlyphs">L5</text>
</svg></body></html>
